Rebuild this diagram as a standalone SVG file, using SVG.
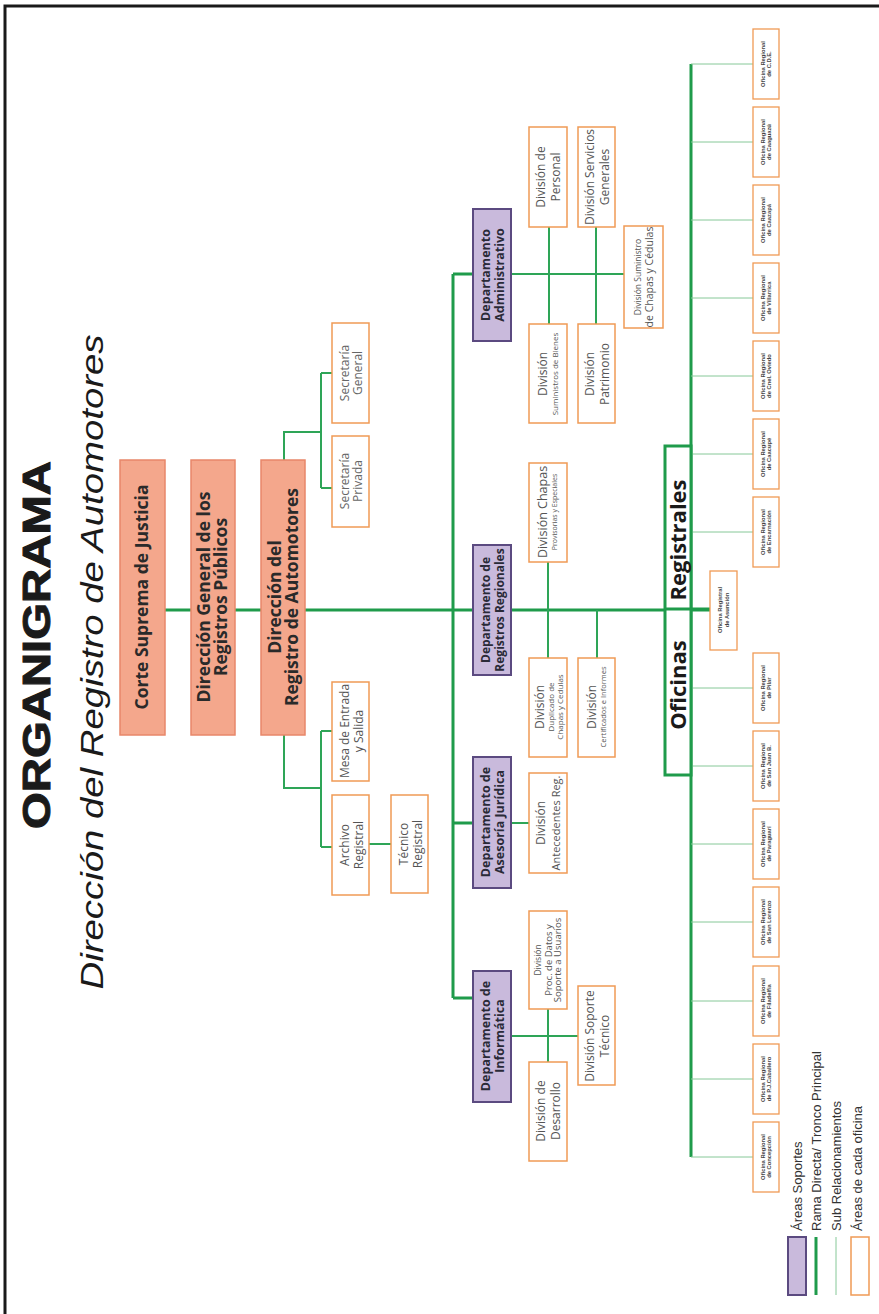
<svg xmlns="http://www.w3.org/2000/svg" width="879" height="1314" viewBox="0 0 879 1314">
<style>
.sal{fill:#F4A78C;stroke:#E8876A;stroke-width:1.5}
.pur{fill:#C9BADC;stroke:#5B4A80;stroke-width:2}
.org{fill:#fff;stroke:#F09A55;stroke-width:1.5}
.off{fill:#fff;stroke:#F09A55;stroke-width:1.3}
.tk{stroke:#1F9B4B;stroke-width:3;fill:none}
.md{stroke:#2EA557;stroke-width:2;fill:none}
.th{stroke:#86C898;stroke-width:1;fill:none}
text{font-family:"Open Sans","DejaVu Sans",sans-serif;text-anchor:middle}
.ts{font-weight:700;font-size:17.5px;fill:#2a2a2a}
.tp{font-weight:700;font-size:12.5px;fill:#2a2a38}
.to{font-size:12px;fill:#555}
.sm{font-size:8px}
.tof{font-family:"Liberation Sans",Arial,sans-serif;font-weight:700;font-size:5.8px;fill:#444}
.lg{font-family:"Liberation Sans",Arial,sans-serif;font-size:13px;fill:#333;text-anchor:start}
</style>
<rect width="879" height="1314" fill="#fff"/>
<path d="M5 1314 V6 H879" fill="none" stroke="#1a1a1a" stroke-width="3"/>

<g id="title">
<text transform="translate(50,645) rotate(-90)" style="font-family:'Liberation Sans',Arial,sans-serif;font-weight:700;font-size:39px;fill:#1a1a1a;stroke:#1a1a1a;stroke-width:1" textLength="368" lengthAdjust="spacingAndGlyphs">ORGANIGRAMA</text>
<text transform="translate(103,662) rotate(-90)" style="font-family:'Liberation Sans',Arial,sans-serif;font-style:italic;font-size:32px;fill:#1a1a1a" textLength="655" lengthAdjust="spacingAndGlyphs">Dirección del Registro de Automotores</text>
</g>

<g id="connectors">
<path class="tk" d="M165 610 H191 M235 610 H261 M305 610 H710"/>
<path class="md" d="M284 460 V432 H321 M321 373 V488 M321 373 H332 M321 488 H332"/>
<path class="md" d="M284 735 V788 H321 M321 731 V847 M321 731 H332 M321 847 H332 M369 844 H391"/>
<path class="tk" d="M453 274 V998 M453 274 H473 M453 823 H473 M453 998 H473"/>
<path class="md" d="M511 274 H624 M549 227 V324 M596 227 V324"/>
<path class="md" d="M548 562 V658 M597 610 V658"/>
<path class="md" d="M511 823 H529"/>
<path class="md" d="M511 1036 H578 M548 1009 V1062"/>
<path class="tk" d="M691 64 V1157"/>
<path class="th" d="M691 64 H753 M691 142 H753 M691 220 H753 M691 298 H753 M691 376 H753 M691 454 H753 M691 532 H753 M691 688 H753 M691 766 H753 M691 844 H753 M691 922 H753 M691 1001 H753 M691 1079 H753 M691 1157 H753"/>
</g>

<g id="corte-suprema">
<rect class="sal" x="120" y="460" width="45" height="275"/>
<text class="ts" transform="translate(142,597) rotate(-90)" y="6">Corte Suprema de Justicia</text>
</g>
<g id="direccion-general">
<rect class="sal" x="191" y="460" width="44" height="275"/>
<text class="ts" transform="translate(212,597) rotate(-90)"><tspan x="0" y="-2.5">Dirección General de los</tspan><tspan x="0" y="14.5">Registros Públicos</tspan></text>
</g>
<g id="direccion-registro">
<rect class="sal" x="261" y="460" width="44" height="275"/>
<text class="ts" transform="translate(283,597) rotate(-90)"><tspan x="0" y="-2.5">Dirección del</tspan><tspan x="0" y="14.5">Registro de Automotores</tspan></text>
</g>

<g id="secretaria-general">
<rect class="org" x="332" y="323" width="37" height="100"/>
<text class="to" transform="translate(351,373) rotate(-90)" style="fill:#666"><tspan x="0" y="-2.5">Secretaría</tspan><tspan x="0" y="11">General</tspan></text>
</g>
<g id="secretaria-privada">
<rect class="org" x="332" y="436" width="37" height="91"/>
<text class="to" transform="translate(351,481) rotate(-90)" style="fill:#666"><tspan x="0" y="-2.5">Secretaría</tspan><tspan x="0" y="11">Privada</tspan></text>
</g>
<g id="mesa-entrada">
<rect class="org" x="332" y="682" width="37" height="99"/>
<text class="to" transform="translate(351,731) rotate(-90)"><tspan x="0" y="-2.5">Mesa de Entrada</tspan><tspan x="0" y="11.5">y Salida</tspan></text>
</g>
<g id="archivo-registral">
<rect class="org" x="332" y="795" width="37" height="100"/>
<text class="to" transform="translate(351,845) rotate(-90)"><tspan x="0" y="-2.5">Archivo</tspan><tspan x="0" y="11.5">Registral</tspan></text>
</g>
<g id="tecnico-registral">
<rect class="org" x="391" y="795" width="37" height="98"/>
<text class="to" transform="translate(410,844) rotate(-90)"><tspan x="0" y="-2.5">Técnico</tspan><tspan x="0" y="11.5">Registral</tspan></text>
</g>

<g id="dep-administrativo">
<rect class="pur" x="473" y="209" width="38" height="132"/>
<text class="tp" transform="translate(493,275) rotate(-90)"><tspan x="0" y="-2.8">Departamento</tspan><tspan x="0" y="11.4">Administrativo</tspan></text>
</g>
<g id="dep-registros-regionales">
<rect class="pur" x="473" y="545" width="38" height="130"/>
<text class="tp" transform="translate(493,610) rotate(-90)" style="font-size:12px"><tspan x="0" y="-2.8">Departamento de</tspan><tspan x="0" y="11.2">Registros Regionales</tspan></text>
</g>
<g id="dep-asesoria">
<rect class="pur" x="473" y="757" width="38" height="131"/>
<text class="tp" transform="translate(493,822) rotate(-90)"><tspan x="0" y="-2.8">Departamento de</tspan><tspan x="0" y="11.4">Asesoría Jurídica</tspan></text>
</g>
<g id="dep-informatica">
<rect class="pur" x="473" y="971" width="38" height="131"/>
<text class="tp" transform="translate(493,1036) rotate(-90)"><tspan x="0" y="-2.8">Departamento de</tspan><tspan x="0" y="11.4">Informática</tspan></text>
</g>

<g id="div-personal">
<rect class="org" x="529" y="127" width="38" height="100"/>
<text class="to" transform="translate(548,177) rotate(-90)"><tspan x="0" y="-3">División de</tspan><tspan x="0" y="12">Personal</tspan></text>
</g>
<g id="div-servicios-generales">
<rect class="org" x="578" y="127" width="37" height="100"/>
<text class="to" transform="translate(597,177) rotate(-90)"><tspan x="0" y="-3">División Servicios</tspan><tspan x="0" y="12">Generales</tspan></text>
</g>
<g id="div-suministros-bienes">
<rect class="org" x="529" y="324" width="38" height="99"/>
<text class="to" transform="translate(548,374) rotate(-90)"><tspan x="0" y="-1">División</tspan><tspan class="sm" x="0" y="10">Suministros de Bienes</tspan></text>
</g>
<g id="div-patrimonio">
<rect class="org" x="578" y="324" width="37" height="99"/>
<text class="to" transform="translate(597,374) rotate(-90)"><tspan x="0" y="-3">División</tspan><tspan x="0" y="12">Patrimonio</tspan></text>
</g>
<g id="div-suministro-chapas">
<rect class="org" x="624" y="226" width="39" height="102"/>
<text class="to" transform="translate(643,277) rotate(-90)"><tspan x="0" y="-2" style="font-size:8.5px">División Suministro</tspan><tspan x="0" y="10" style="font-size:10.5px">de Chapas y Cédulas</tspan></text>
</g>

<g id="div-chapas">
<rect class="org" x="529" y="463" width="38" height="99"/>
<text class="to" transform="translate(548,512) rotate(-90)"><tspan x="0" y="-1" style="font-size:12.5px">División Chapas</tspan><tspan x="0" y="9" style="font-size:7px">Provisorias y Especiales</tspan></text>
</g>
<g id="div-duplicado">
<rect class="org" x="529" y="658" width="38" height="99"/>
<text class="to" transform="translate(548,707) rotate(-90)"><tspan x="0" y="-4">División</tspan><tspan class="sm" x="0" y="6">Duplicado de</tspan><tspan class="sm" x="0" y="15">Chapas y Cedulas</tspan></text>
</g>
<g id="div-certificados">
<rect class="org" x="578" y="658" width="37" height="99"/>
<text class="to" transform="translate(597,707) rotate(-90)"><tspan x="0" y="-1">División</tspan><tspan x="0" y="9" style="font-size:7.5px">Certificados e Informes</tspan></text>
</g>

<g id="div-antecedentes">
<rect class="org" x="529" y="773" width="38" height="100"/>
<text class="to" transform="translate(548,823) rotate(-90)"><tspan x="0" y="-3">División</tspan><tspan x="0" y="12" style="font-size:11px">Antecedentes Reg.</tspan></text>
</g>

<g id="div-proc-datos">
<rect class="org" x="529" y="911" width="38" height="98"/>
<text class="to" transform="translate(548,960) rotate(-90)" style="font-size:9.5px"><tspan x="0" y="-7.5" style="font-size:8.5px">División</tspan><tspan x="0" y="3.5">Proc. de Datos y</tspan><tspan x="0" y="13">Soporte a Usuarios</tspan></text>
</g>
<g id="div-soporte-tecnico">
<rect class="org" x="578" y="986" width="37" height="99"/>
<text class="to" transform="translate(597,1036) rotate(-90)"><tspan x="0" y="-3">División Soporte</tspan><tspan x="0" y="12">Técnico</tspan></text>
</g>
<g id="div-desarrollo">
<rect class="org" x="529" y="1062" width="38" height="99"/>
<text class="to" transform="translate(548,1111) rotate(-90)"><tspan x="0" y="-3">División de</tspan><tspan x="0" y="12">Desarrollo</tspan></text>
</g>

<g id="oficinas-registrales">
<rect x="665" y="446" width="26" height="329" fill="#fff" stroke="#1F9B4B" stroke-width="3"/>
<path class="tk" d="M665 609 H710"/>
<text transform="translate(678,540) rotate(-90)" y="8" style="font-weight:700;font-size:22px;fill:#1a1a1a">Registrales</text>
<text transform="translate(678,685) rotate(-90)" y="8" style="font-weight:700;font-size:22px;fill:#1a1a1a">Oficinas</text>
</g>

<g id="of-asuncion">
<rect class="off" x="710" y="571" width="27" height="79"/>
<text class="tof" transform="translate(723.5,610) rotate(-90)"><tspan x="0" y="-1.5">Oficina Registral</tspan><tspan x="0" y="5.2">de Asunción</tspan></text>
</g>
<g id="of-cde"><rect class="off" x="753" y="29" width="26" height="70"/><text class="tof" transform="translate(766,64) rotate(-90)"><tspan x="0" y="-1.5">Oficina Regional</tspan><tspan x="0" y="5.2">de C.D.E.</tspan></text></g>
<g id="of-caaguazu"><rect class="off" x="753" y="107" width="26" height="70"/><text class="tof" transform="translate(766,142) rotate(-90)"><tspan x="0" y="-1.5">Oficina Regional</tspan><tspan x="0" y="5.2">de Caaguazú</tspan></text></g>
<g id="of-caazapa"><rect class="off" x="753" y="185" width="26" height="70"/><text class="tof" transform="translate(766,220) rotate(-90)"><tspan x="0" y="-1.5">Oficina Regional</tspan><tspan x="0" y="5.2">de Caazapá</tspan></text></g>
<g id="of-villarrica"><rect class="off" x="753" y="263" width="26" height="70"/><text class="tof" transform="translate(766,298) rotate(-90)"><tspan x="0" y="-1.5">Oficina Regional</tspan><tspan x="0" y="5.2">de Villarrica</tspan></text></g>
<g id="of-oviedo"><rect class="off" x="753" y="341" width="26" height="70"/><text class="tof" transform="translate(766,376) rotate(-90)"><tspan x="0" y="-1.5">Oficina Regional</tspan><tspan x="0" y="5.2">de Cnel. Oviedo</tspan></text></g>
<g id="of-caacupe"><rect class="off" x="753" y="419" width="26" height="70"/><text class="tof" transform="translate(766,454) rotate(-90)"><tspan x="0" y="-1.5">Oficina Regional</tspan><tspan x="0" y="5.2">de Caacupé</tspan></text></g>
<g id="of-encarnacion"><rect class="off" x="753" y="497" width="26" height="70"/><text class="tof" transform="translate(766,532) rotate(-90)"><tspan x="0" y="-1.5">Oficina Regional</tspan><tspan x="0" y="5.2">de Encarnación</tspan></text></g>
<g id="of-pilar"><rect class="off" x="753" y="653" width="26" height="70"/><text class="tof" transform="translate(766,688) rotate(-90)"><tspan x="0" y="-1.5">Oficina Regional</tspan><tspan x="0" y="5.2">de Pilar</tspan></text></g>
<g id="of-sanjuan"><rect class="off" x="753" y="731" width="26" height="70"/><text class="tof" transform="translate(766,766) rotate(-90)"><tspan x="0" y="-1.5">Oficina Regional</tspan><tspan x="0" y="5.2">de San Juan B.</tspan></text></g>
<g id="of-paraguari"><rect class="off" x="753" y="809" width="26" height="70"/><text class="tof" transform="translate(766,844) rotate(-90)"><tspan x="0" y="-1.5">Oficina Regional</tspan><tspan x="0" y="5.2">de Paraguarí</tspan></text></g>
<g id="of-sanlorenzo"><rect class="off" x="753" y="887" width="26" height="70"/><text class="tof" transform="translate(766,922) rotate(-90)"><tspan x="0" y="-1.5">Oficina Regional</tspan><tspan x="0" y="5.2">de San Lorenzo</tspan></text></g>
<g id="of-filadelfia"><rect class="off" x="753" y="966" width="26" height="70"/><text class="tof" transform="translate(766,1001) rotate(-90)"><tspan x="0" y="-1.5">Oficina Regional</tspan><tspan x="0" y="5.2">de Filadelfia</tspan></text></g>
<g id="of-pjcaballero"><rect class="off" x="753" y="1044" width="26" height="70"/><text class="tof" transform="translate(766,1079) rotate(-90)"><tspan x="0" y="-1.5">Oficina Regional</tspan><tspan x="0" y="5.2">de P.J.Caballero</tspan></text></g>
<g id="of-concepcion"><rect class="off" x="753" y="1122" width="26" height="70"/><text class="tof" transform="translate(766,1157) rotate(-90)"><tspan x="0" y="-1.5">Oficina Regional</tspan><tspan x="0" y="5.2">de Concepción</tspan></text></g>

<g id="legend">
<rect x="788" y="1237" width="18" height="58" fill="#C9BADC" stroke="#5B4A80" stroke-width="2"/>
<text class="lg" transform="translate(802,1231) rotate(-90)">Áreas Soportes</text>
<path class="tk" d="M816 1237 V1295"/>
<text class="lg" transform="translate(821,1231) rotate(-90)">Rama Directa/ Tronco Principal</text>
<path class="th" d="M836 1237 V1295"/>
<text class="lg" transform="translate(841,1231) rotate(-90)">Sub Relacionamientos</text>
<rect x="851" y="1237" width="18" height="58" fill="#fff" stroke="#F09A55" stroke-width="1.5"/>
<text class="lg" transform="translate(862,1231) rotate(-90)">Áreas de cada oficina</text>
</g>
</svg>
